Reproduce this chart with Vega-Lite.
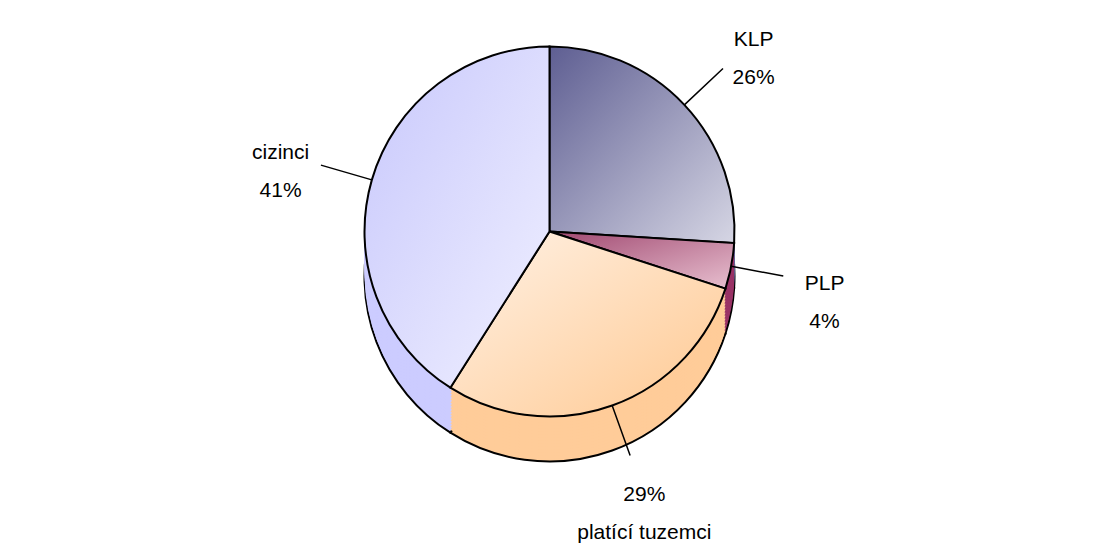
{
  "$schema": "https://vega.github.io/schema/vega-lite/v6.json",
  "width": 1099,
  "height": 554,
  "autosize": {"type": "fit", "contains": "padding"},
  "padding": {"top": 0, "bottom": 56, "left": 0, "right": 0},
  "background": "white",
  "config": {"view": {"stroke": null}},
  "data": {
    "values": [
      {"name": "KLP", "value": 26, "order": 1, "label": "KLP\n26%"},
      {"name": "PLP", "value": 4, "order": 2, "label": "PLP\n4%"},
      {"name": "platící tuzemci", "value": 29, "order": 3, "label": "29%\nplatící tuzemci"},
      {"name": "cizinci", "value": 41, "order": 4, "label": "cizinci\n41%"}
    ]
  },
  "encoding": {
    "theta": {"field": "value", "type": "quantitative", "stack": true},
    "order": {"field": "order", "type": "quantitative"}
  },
  "layer": [
    {
      "mark": {"type": "arc", "radius": 185, "yOffset": 45, "stroke": "black", "strokeWidth": 2},
      "encoding": {
        "color": {"field": "name", "type": "nominal", "legend": null,
          "scale": {"domain": ["KLP", "PLP", "platící tuzemci", "cizinci"], "range": ["#666699", "#993366", "#FFCC99", "#CCCCFF"]}}
      }
    },
    {"mark": {"type": "arc", "radius": 185, "yOffset": 42}, "encoding": {"color": {"field": "name", "type": "nominal", "legend": null}}},
    {"mark": {"type": "arc", "radius": 185, "yOffset": 39}, "encoding": {"color": {"field": "name", "type": "nominal", "legend": null}}},
    {"mark": {"type": "arc", "radius": 185, "yOffset": 36}, "encoding": {"color": {"field": "name", "type": "nominal", "legend": null}}},
    {"mark": {"type": "arc", "radius": 185, "yOffset": 33}, "encoding": {"color": {"field": "name", "type": "nominal", "legend": null}}},
    {"mark": {"type": "arc", "radius": 185, "yOffset": 30}, "encoding": {"color": {"field": "name", "type": "nominal", "legend": null}}},
    {"mark": {"type": "arc", "radius": 185, "yOffset": 27}, "encoding": {"color": {"field": "name", "type": "nominal", "legend": null}}},
    {"mark": {"type": "arc", "radius": 185, "yOffset": 24}, "encoding": {"color": {"field": "name", "type": "nominal", "legend": null}}},
    {"mark": {"type": "arc", "radius": 185, "yOffset": 21}, "encoding": {"color": {"field": "name", "type": "nominal", "legend": null}}},
    {"mark": {"type": "arc", "radius": 185, "yOffset": 18}, "encoding": {"color": {"field": "name", "type": "nominal", "legend": null}}},
    {"mark": {"type": "arc", "radius": 185, "yOffset": 15}, "encoding": {"color": {"field": "name", "type": "nominal", "legend": null}}},
    {"mark": {"type": "arc", "radius": 185, "yOffset": 12}, "encoding": {"color": {"field": "name", "type": "nominal", "legend": null}}},
    {"mark": {"type": "arc", "radius": 185, "yOffset": 9}, "encoding": {"color": {"field": "name", "type": "nominal", "legend": null}}},
    {"mark": {"type": "arc", "radius": 185, "yOffset": 6}, "encoding": {"color": {"field": "name", "type": "nominal", "legend": null}}},
    {"mark": {"type": "arc", "radius": 185, "yOffset": 3}, "encoding": {"color": {"field": "name", "type": "nominal", "legend": null}}},
    {
      "mark": {"type": "arc", "radius": 238, "radius2": 185, "padAngle": 3, "fill": null, "stroke": "black", "strokeWidth": 1.5}
    },
    {
      "mark": {"type": "arc", "radius": 185, "stroke": "black", "strokeWidth": 2},
      "encoding": {
        "color": {
          "condition": [
            {"test": "datum.name === 'KLP'", "value": {"gradient": "linear", "x1": 0, "y1": 0, "x2": 1, "y2": 1, "stops": [{"offset": 0, "color": "#5E5E92"}, {"offset": 1, "color": "#D6D6E4"}]}},
            {"test": "datum.name === 'PLP'", "value": {"gradient": "linear", "x1": 0, "y1": 0, "x2": 1, "y2": 1, "stops": [{"offset": 0, "color": "#A04870"}, {"offset": 1, "color": "#E8C0D0"}]}},
            {"test": "datum.name === 'platící tuzemci'", "value": {"gradient": "linear", "x1": 0, "y1": 0, "x2": 1, "y2": 1, "stops": [{"offset": 0, "color": "#FFF2E6"}, {"offset": 1, "color": "#FFC890"}]}}
          ],
          "value": {"gradient": "linear", "x1": 0, "y1": 0, "x2": 1, "y2": 1, "stops": [{"offset": 0, "color": "#C8C8FC"}, {"offset": 1, "color": "#F0F0FF"}]}
        }
      }
    },
    {
      "mark": {"type": "text", "radius": 280, "font": "Liberation Sans", "fontSize": 21, "lineBreak": "\n", "lineHeight": 38, "align": "center", "baseline": "middle", "color": "black"},
      "encoding": {
        "text": {"field": "label", "type": "nominal"}
      }
    }
  ]
}
